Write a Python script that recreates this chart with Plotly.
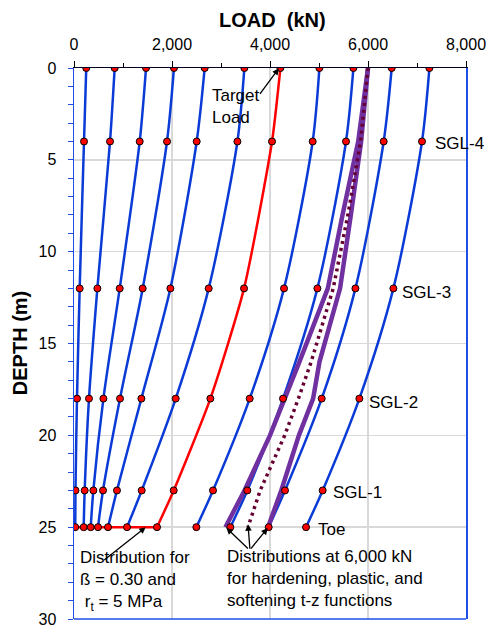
import plotly.graph_objects as go

# ---------------- data ----------------
gauge_depths = [0, 4, 12, 18, 23, 25]          # m
gauge_labels = ["SGL-4", "SGL-3", "SGL-2", "SGL-1", "Toe"]

blue_loads = [
    [250, 204, 116, 61, 30, 25],
    [830, 735, 477, 306, 218, 198],
    [1470, 1341, 933, 600, 395, 341],
    [2040, 1898, 1402, 939, 592, 490],
    [2667, 2504, 1967, 1375, 877, 694],
    [3477, 3335, 2749, 2076, 1382, 1082],
    [5008, 4871, 4286, 3586, 2837, 2497],
    [5702, 5551, 4967, 4266, 3537, 3191],
    [6484, 6320, 5743, 5055, 4306, 3973],
    [7253, 7102, 6518, 5824, 5075, 4735],
]

red_loads = [4212, 4041, 3470, 2783, 2035, 1694]
red_toe_loads = [1694, 0]
red_toe_depths = [25, 25]

tz_depths = [0, 4, 8, 12, 16, 18, 20, 23, 25]
tz_hardening = [6000, 5800, 5480, 5180, 4600, 4300, 4000, 3480, 3090]
tz_plastic = [6000, 5850, 5590, 5290, 4840, 4580, 4300, 3800, 3550]
tz_softening = [6000, 5860, 5650, 5430, 5010, 4880, 4590, 4230, 3960]

# ---------------- styles ----------------
BLUE = "#0B3BD6"
AXBLUE = "#1F4FE8"
RED = "#FF0000"
PURPLE = "#7030A0"
MAROON = "#660033"
GRID = "#D9D9D9"
FONT = "Liberation Sans, Arial, sans-serif"
AFONT = dict(size=17, color="black", family=FONT)

fig = go.Figure()

for loads in blue_loads:
    fig.add_trace(go.Scatter(x=loads, y=gauge_depths, mode="lines",
                             line=dict(color=BLUE, width=2.5, shape="spline", smoothing=0.8),
                             hoverinfo="skip"))

fig.add_trace(go.Scatter(x=red_loads, y=gauge_depths, mode="lines",
                         line=dict(color=RED, width=2.5, shape="spline", smoothing=0.6),
                         hoverinfo="skip"))
fig.add_trace(go.Scatter(x=red_toe_loads, y=red_toe_depths, mode="lines",
                         line=dict(color=RED, width=2.5), hoverinfo="skip"))

fig.add_trace(go.Scatter(x=tz_hardening, y=tz_depths, mode="lines",
                         line=dict(color=PURPLE, width=4.5), hoverinfo="skip"))
fig.add_trace(go.Scatter(x=tz_softening, y=tz_depths, mode="lines",
                         line=dict(color=PURPLE, width=4.5), hoverinfo="skip"))
fig.add_trace(go.Scatter(x=tz_plastic, y=tz_depths, mode="lines",
                         line=dict(color=MAROON, width=3.5, dash="3px,4px"), hoverinfo="skip"))

for loads in blue_loads + [red_loads]:
    fig.add_trace(go.Scatter(x=loads, y=gauge_depths, mode="markers",
                             marker=dict(color=RED, size=7, line=dict(color="black", width=1)),
                             hoverinfo="skip"))

annotations = []
# gauge labels placed right of the outermost curve
label_x = [7330, 6647, 5973, 5239, 4933]
label_y = [4.1, 12.2, 18.2, 23.1, 25.1]
for txt, lx, ly in zip(gauge_labels, label_x, label_y):
    annotations.append(dict(x=lx, y=ly, text=txt, showarrow=False, xanchor="left",
                            yanchor="middle", font=AFONT))

# Target load
annotations.append(dict(x=4181, y=0.02, ax=-20, ay=27, text="", showarrow=True,
                        arrowhead=2, arrowsize=1, arrowwidth=1.3, arrowcolor="black", standoff=0))
annotations.append(dict(x=2770, y=0.85, text="Target<br>Load", showarrow=False, xanchor="left",
                        yanchor="top", align="left", font=AFONT))

# Distribution for beta
annotations.append(dict(x=1464, y=25.0, ax=-43, ay=34, text="", showarrow=True,
                        arrowhead=2, arrowsize=1, arrowwidth=1.3, arrowcolor="black", standoff=0))
annotations.append(dict(x=90, y=26.0, text="Distribution for<br>ß = 0.30 and<br> r<sub>t</sub> = 5 MPa",
                        showarrow=False, xanchor="left", yanchor="top", align="left", font=AFONT))

# Distributions at 6,000 kN
for tx, ty, ax, ay in [(3110, 25.04, 23, 22), (3551, 24.84, 2, 26), (3953, 25.05, -18, 22)]:
    annotations.append(dict(x=tx, y=ty, ax=ax, ay=ay, text="", showarrow=True,
                            arrowhead=2, arrowsize=1, arrowwidth=1.3, arrowcolor="black", standoff=0))
annotations.append(dict(x=3080, y=25.95, text="Distributions at 6,000 kN<br>for hardening, plastic, and<br>softening t-z functions",
                        showarrow=False, xanchor="left", yanchor="top", align="left", font=AFONT))

# axis titles
annotations.append(dict(xref="paper", yref="paper", x=0.507, y=1.088, text="<b>LOAD\u00a0 (kN)</b>",
                        showarrow=False, xanchor="center", yanchor="middle",
                        font=dict(size=20, color="black", family=FONT)))
annotations.append(dict(xref="paper", yref="paper", x=-0.1386, y=0.5, text="<b>DEPTH (m)</b>",
                        textangle=-90, showarrow=False, xanchor="center", yanchor="middle",
                        font=dict(size=20, color="black", family=FONT)))

fig.update_layout(
    width=491, height=627,
    margin=dict(l=74, r=25, t=68, b=8),
    plot_bgcolor="white", paper_bgcolor="white",
    showlegend=False,
    font=dict(family=FONT, size=16, color="black"),
    annotations=annotations,
    shapes=[dict(type="line", xref="paper", yref="paper", x0=0, x1=1, y0=0, y1=0,
                 line=dict(color=AXBLUE, width=1.5), layer="above")],
    xaxis=dict(side="top", range=[0, 8000], tick0=0, dtick=2000, tickformat=",d",
               ticks="outside", ticklen=6, tickcolor="black", tickwidth=1,
               showline=True, linecolor="#000020", linewidth=1.5,
               showgrid=True, gridcolor=GRID, gridwidth=1.5, zeroline=False,
               ticklabelstandoff=4, automargin=False, ticklabeloverflow="allow",
               minor=dict(dtick=1000, ticks="outside", ticklen=4, tickcolor="black", showgrid=False),
               tickfont=dict(size=16, color="black", family=FONT), fixedrange=True),
    yaxis=dict(range=[30, 0], tick0=0, dtick=5,
               ticks="outside", ticklen=5, tickcolor=AXBLUE, tickwidth=1,
               showline=True, mirror=True, linecolor=AXBLUE, linewidth=1.5,
               showgrid=True, gridcolor=GRID, gridwidth=1.5, zeroline=False,
               ticklabelstandoff=8, automargin=False, ticklabeloverflow="allow",
               minor=dict(dtick=1, ticks="outside", ticklen=5, tickcolor=AXBLUE, showgrid=False),
               tickfont=dict(size=16, color="black", family=FONT), fixedrange=True),
)

# remove the default 8px page margin so the 491x627 figure fills the window exactly
fig.write_html("out.html", config={"displayModeBar": False, "staticPlot": True},
               post_script="document.body.style.margin='0px';")
